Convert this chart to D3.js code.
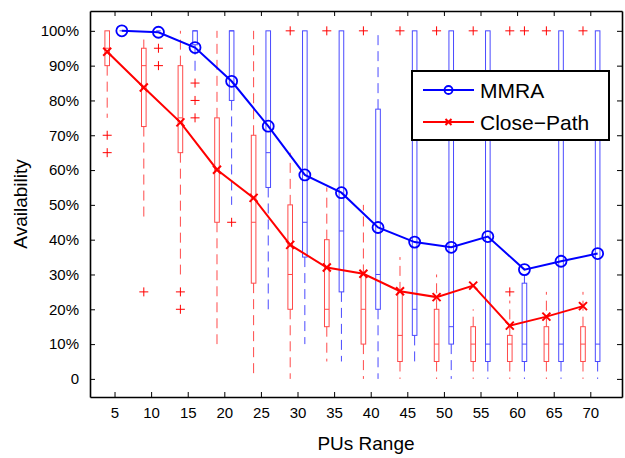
<!DOCTYPE html>
<html>
<head>
<meta charset="utf-8">
<script src="https://cdn.jsdelivr.net/npm/d3@7"></script>
<style>
  body { margin: 0; background: #fff; }
  text { font-family: "Liberation Sans", Arial, Helvetica, sans-serif; }
</style>
</head>
<body>
<svg id="chart" width="625" height="458"></svg>
<script>
// ── data ──────────────────────────────────────────────
const ranges = [5, 10, 15, 20, 25, 30, 35, 40, 45, 50, 55, 60, 65, 70];
const yTicks = [0, 0.1, 0.2, 0.3, 0.4, 0.5, 0.6, 0.7, 0.8, 0.9, 1.0];

// mean availability (the lines)
const mmraMean  = [1.0, 0.996, 0.952, 0.855, 0.726, 0.586, 0.535, 0.435, 0.393, 0.378, 0.409, 0.314, 0.338, 0.360];
const closeMean = [0.94, 0.837, 0.737, 0.601, 0.52, 0.385, 0.32, 0.302, 0.252, 0.235, 0.268, 0.153, 0.179, 0.209];

// Close-Path box stats
const closeLow  = [0.75, 0.45, 0.30, 0.10, 0, 0, 0.05, 0, 0, 0, 0, 0, 0, 0];
const closeQ1   = [0.90, 0.725, 0.65, 0.45, 0.275, 0.20, 0.15, 0.10, 0.05, 0.05, 0.05, 0.05, 0.05, 0.05];
const closeMed  = [0.95, 0.90, 0.75, 0.60, 0.45, 0.30, 0.20, 0.20, 0.125, 0.10, 0.10, 0.10, 0.10, 0.10];
const closeQ3   = [1.0, 0.95, 0.90, 0.75, 0.70, 0.50, 0.40, 0.30, 0.25, 0.20, 0.15, 0.125, 0.15, 0.15];
const closeHigh = [1.0, 0.975, 1.0, 1.0, 1.0, 0.65, 0.55, 0.50, 0.35, 0.30, 0.20, 0.225, 0.25, 0.25];
const closeOut  = [[0.70, 0.65], [0.25], [0.25, 0.20], [], [], [1], [1], [1], [1], [1], [1], [1, 0.25], [1], [1]];

// MMRA box stats
const mmraLow  = [1.0, 1.0, 0.875, 0.50, 0.20, 0.10, 0.05, 0, 0.05, 0, 0, 0, 0, 0];
const mmraQ1   = [1.0, 1.0, 0.96, 0.80, 0.55, 0.35, 0.25, 0.20, 0.125, 0.10, 0.05, 0.05, 0.05, 0.05];
const mmraMed  = [1.0, 1.0, 1.0, 1.0, 0.65, 0.45, 0.425, 0.30, 0.20, 0.15, 0.10, 0.10, 0.10, 0.10];
const mmraQ3   = [1, 1, 1, 1, 1, 1, 1, 0.775, 1, 1, 1, 0.275, 1, 1];
const mmraHigh = [1, 1, 1, 1, 1, 1, 1, 1, 1, 1, 1, 0.30, 1, 1];
const mmraOut  = [[], [0.95, 0.90], [0.85, 0.80, 0.75], [0.45], [], [], [], [], [], [], [], [1], [], []];

// ── layout ────────────────────────────────────────────
const W = 625, H = 458;
const L = 90, R = 622, T = 11, B = 397;
const RED = '#ff0000', BLUE = '#0000ff';
const RED_BOX = '#ff4a4a', BLUE_BOX = '#4a4aff';

const svg = d3.select('#chart');
const x = d3.scaleLinear().domain([1.65, 74.33]).range([L, R]);
const y = d3.scaleLinear().domain([-0.052, 1.057]).range([B, T]);

function series(name, offset, low, q1, med, q3, high, out, mean) {
  return ranges.map((r, i) => ({
    name, pos: r + offset, low: low[i], q1: q1[i], med: med[i], q3: q3[i],
    high: high[i], out: out[i], mean: mean[i]
  }));
}
const closeData = series('close', -1, closeLow, closeQ1, closeMed, closeQ3, closeHigh, closeOut, closeMean);
const mmraData  = series('mmra', 1, mmraLow, mmraQ1, mmraMed, mmraQ3, mmraHigh, mmraOut, mmraMean);

// ── boxes ─────────────────────────────────────────────
const boxW = 4.6;
function drawBoxes(data, color) {
  const g = svg.append('g').attr('stroke', color).attr('fill', 'none').attr('stroke-width', 1);
  const grp = g.selectAll('g').data(data).join('g');
  // whiskers
  grp.append('line')
    .attr('x1', d => x(d.pos)).attr('x2', d => x(d.pos))
    .attr('y1', d => y(d.q3)).attr('y2', d => y(d.high))
    .attr('stroke-dasharray', '10,6');
  grp.append('line')
    .attr('x1', d => x(d.pos)).attr('x2', d => x(d.pos))
    .attr('y1', d => y(d.q1)).attr('y2', d => y(d.low))
    .attr('stroke-dasharray', '10,6');
  // box
  grp.append('rect')
    .attr('x', d => x(d.pos) - boxW / 2).attr('width', boxW)
    .attr('y', d => y(d.q3)).attr('height', d => Math.max(0, y(d.q1) - y(d.q3)));
  // median
  grp.append('line')
    .attr('x1', d => x(d.pos) - boxW / 2).attr('x2', d => x(d.pos) + boxW / 2)
    .attr('y1', d => y(d.med)).attr('y2', d => y(d.med));
}
drawBoxes(closeData, RED_BOX);
drawBoxes(mmraData, BLUE_BOX);

// outliers (red + for both groups, matlab default)
const outPts = [...closeData, ...mmraData].flatMap(d => d.out.map(v => ({ pos: d.pos, v })));
svg.append('g').selectAll('path').data(outPts).join('path')
  .attr('transform', d => `translate(${x(d.pos)},${y(d.v)})`)
  .attr('d', 'M-4.5,0H4.5M0,-4.5V4.5')
  .attr('stroke', RED).attr('stroke-width', 1).attr('fill', 'none');

// ── axes ──────────────────────────────────────────────
const pct = v => v === 0 ? '0' : Math.round(v * 100) + '%';
const axB = svg.append('g').attr('transform', `translate(0,${B})`)
  .call(d3.axisBottom(x).tickValues(ranges).tickSize(-5).tickSizeOuter(0).tickPadding(10));
const axT = svg.append('g').attr('transform', `translate(0,${T})`)
  .call(d3.axisTop(x).tickValues(ranges).tickSize(-5).tickSizeOuter(0).tickFormat(''));
const axL = svg.append('g').attr('transform', `translate(${L},0)`)
  .call(d3.axisLeft(y).tickValues(yTicks).tickSize(-5).tickSizeOuter(0).tickPadding(11).tickFormat(pct));
const axR = svg.append('g').attr('transform', `translate(${R},0)`)
  .call(d3.axisRight(y).tickValues(yTicks).tickSize(-5).tickSizeOuter(0).tickFormat(''));

[axB, axT, axL, axR].forEach(a => {
  a.select('.domain').attr('stroke', '#000').attr('stroke-width', 1.6);
  a.selectAll('.tick line').attr('stroke', '#000').attr('stroke-width', 1);
  a.selectAll('text').attr('fill', '#000').style('font-size', '15px')
    .style('font-family', '"Liberation Sans", Arial, sans-serif');
});

svg.append('text').attr('x', 366).attr('y', 450).attr('text-anchor', 'middle')
  .style('font-size', '19px').text('PUs Range');
svg.append('text').attr('transform', `translate(27,${(T + B) / 2}) rotate(-90)`)
  .attr('text-anchor', 'middle').style('font-size', '19px').text('Availability');

// ── mean lines ────────────────────────────────────────
const line = d3.line().x(d => x(d.pos)).y(d => y(d.mean));
svg.append('path').datum(closeData).attr('d', line)
  .attr('fill', 'none').attr('stroke', RED).attr('stroke-width', 2);
svg.append('path').datum(mmraData).attr('d', line)
  .attr('fill', 'none').attr('stroke', BLUE).attr('stroke-width', 2);

const xMark = 'M-4,-4L4,4M-4,4L4,-4';
svg.append('g').selectAll('path').data(closeData).join('path')
  .attr('transform', d => `translate(${x(d.pos)},${y(d.mean)})`)
  .attr('d', xMark).attr('stroke', RED).attr('stroke-width', 2).attr('fill', 'none');
svg.append('g').selectAll('circle').data(mmraData).join('circle')
  .attr('cx', d => x(d.pos)).attr('cy', d => y(d.mean)).attr('r', 5.5)
  .attr('stroke', BLUE).attr('stroke-width', 1.8).attr('fill', 'none');

// ── legend ────────────────────────────────────────────
const lg = svg.append('g').attr('transform', 'translate(412,71)');
lg.append('rect').attr('width', 197).attr('height', 69)
  .attr('fill', '#fff').attr('stroke', '#000').attr('stroke-width', 2);
const items = [
  { label: 'MMRA', color: BLUE, mark: 'o', dy: 19 },
  { label: 'Close\u2212Path', color: RED, mark: 'x', dy: 51 }
];
items.forEach(it => {
  lg.append('line').attr('x1', 11).attr('x2', 62).attr('y1', it.dy).attr('y2', it.dy)
    .attr('stroke', it.color).attr('stroke-width', 2);
  if (it.mark === 'o') {
    lg.append('circle').attr('cx', 36.5).attr('cy', it.dy).attr('r', 4)
      .attr('stroke', it.color).attr('stroke-width', 1.8).attr('fill', 'none');
  } else {
    lg.append('path').attr('transform', `translate(36.5,${it.dy})`).attr('d', 'M-3,-3L3,3M-3,3L3,-3')
      .attr('stroke', it.color).attr('stroke-width', 2);
  }
  lg.append('text').attr('x', 68).attr('y', it.dy + 7.5).style('font-size', '21px').text(it.label);
});
</script>
</body>
</html>
